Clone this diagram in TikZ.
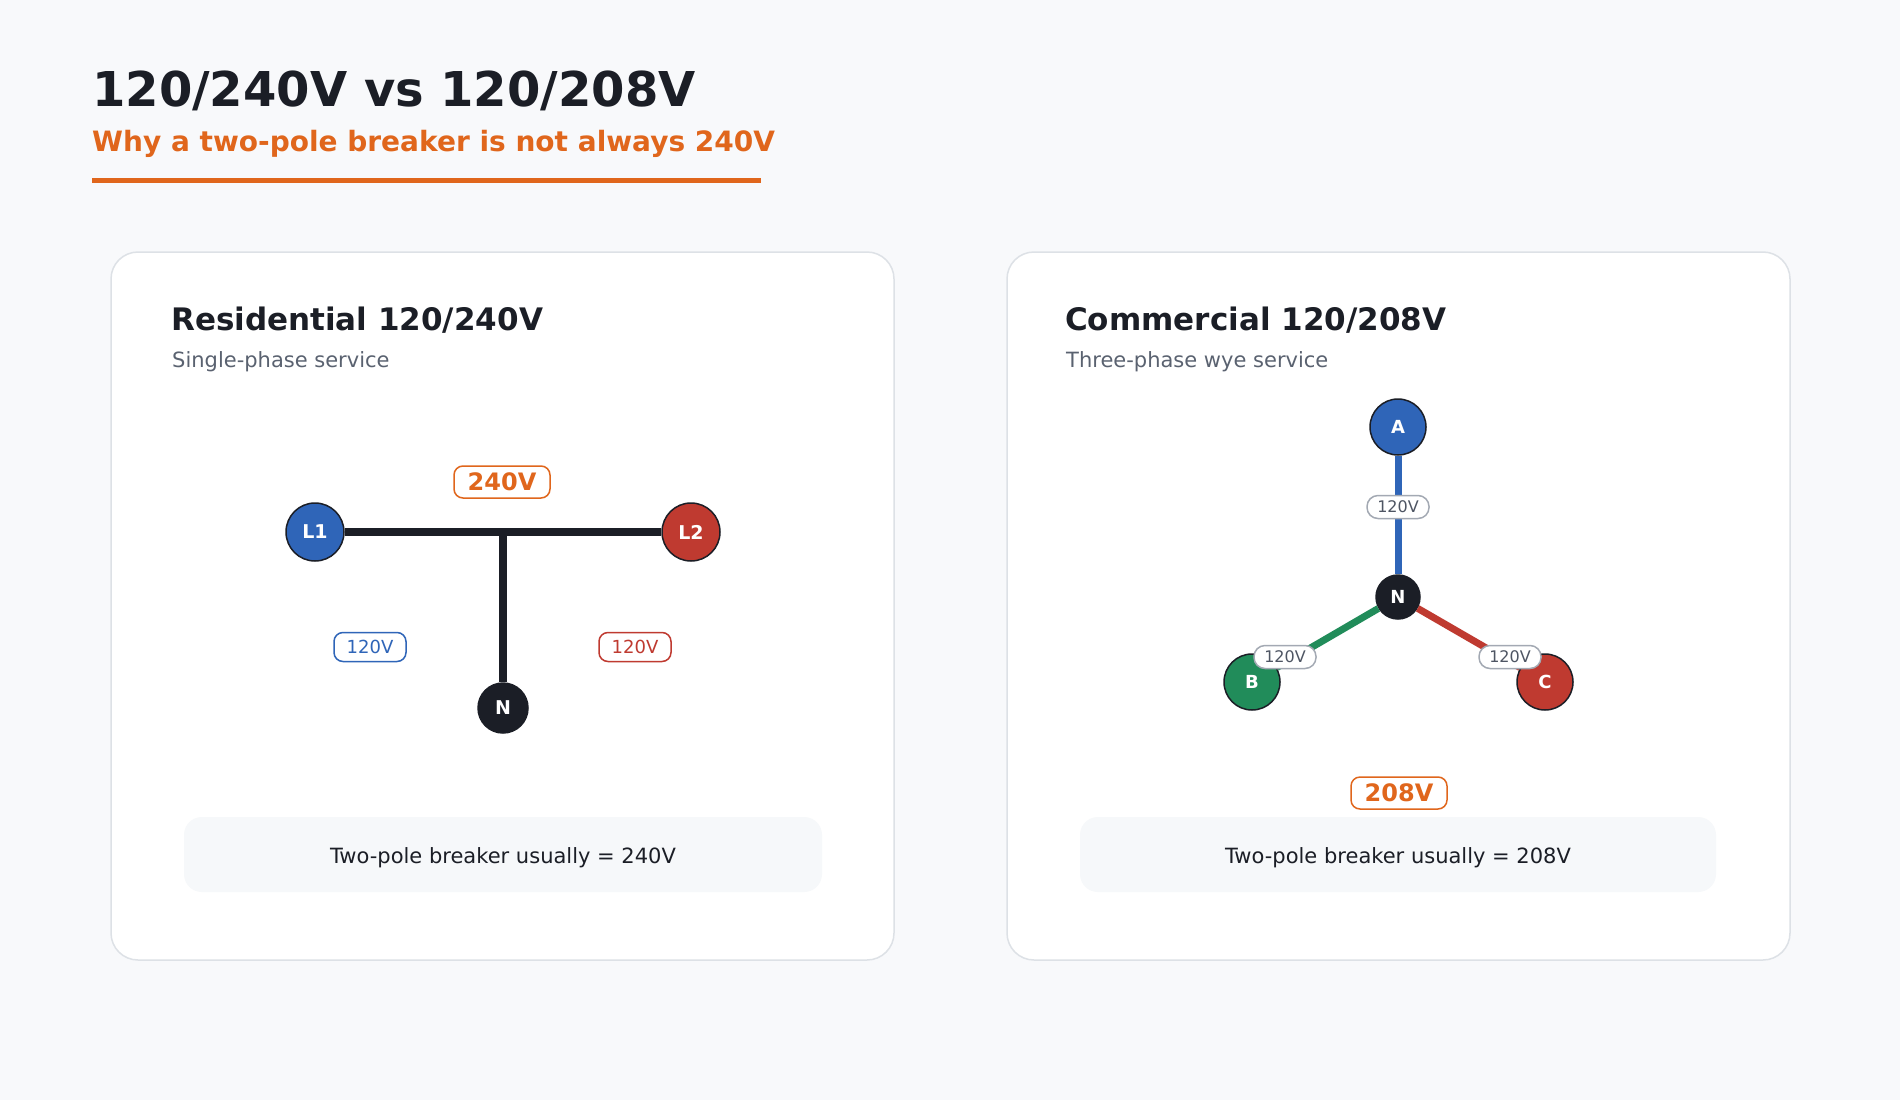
\documentclass[tikz,border=0pt]{standalone}
\usepackage{fontspec}
\setmainfont{DejaVu Sans}
\usetikzlibrary{positioning}

\definecolor{pagebg}{HTML}{F8F9FB}
\definecolor{ink}{HTML}{1B1E26}
\definecolor{mute}{HTML}{5A6270}
\definecolor{accent}{HTML}{E0661C}
\definecolor{cardline}{HTML}{DDE1E6}
\definecolor{notebg}{HTML}{F6F8FA}
\definecolor{phblue}{HTML}{2F65B8}
\definecolor{phred}{HTML}{BF3A30}
\definecolor{phgreen}{HTML}{218C5A}
\definecolor{tagline}{HTML}{A3A9B3}
\definecolor{tagtext}{HTML}{4E5563}

\begin{document}
\begin{tikzpicture}[x=1pt, y=-1pt,
    card/.style={draw=cardline, fill=white, line width=1.5pt, rounded corners=27pt},
    note/.style={fill=notebg, rounded corners=18pt},
    heading/.style={anchor=base west, inner sep=0, text=ink, font=\bfseries\fontsize{31}{36}\selectfont},
    subhead/.style={anchor=base west, inner sep=0, text=mute, font=\fontsize{21}{24}\selectfont},
    phase/.style={circle, draw=ink, line width=1.5pt, minimum size=58pt, inner sep=0, text=white, font=\bfseries\fontsize{19}{19}\selectfont},
    neutral/.style={phase, fill=ink, minimum size=50pt},
    bigtag/.style={draw=accent, fill=white, line width=1.5pt, rounded corners=9pt, minimum width=96pt, minimum height=32pt, inner sep=0, text=accent, font=\bfseries\fontsize{24}{24}\selectfont},
    smalltag/.style={fill=white, line width=1.5pt, rounded corners=9pt, minimum width=72pt, minimum height=29pt, inner sep=0, font=\fontsize{18}{18}\selectfont},
    wyetag/.style={draw=tagline, fill=white, line width=1.5pt, rounded corners=11pt, minimum width=62pt, minimum height=23pt, inner sep=0, text=tagtext, font=\fontsize{16}{16}\selectfont},
    notetext/.style={text=ink, font=\fontsize{21}{24}\selectfont}]

    % page
    \fill[pagebg] (0,0) rectangle (1900,1100);
    \useasboundingbox (0,0) rectangle (1900,1100);

    % title block
    \node[anchor=base west, inner sep=0, text=ink, font=\bfseries\fontsize{48}{56}\selectfont] (title) at (92,106) {120/240V vs 120/208V};
    \node[anchor=base west, inner sep=0, text=accent, font=\bfseries\fontsize{28}{32}\selectfont] (subtitle) at (92,151) {Why a two-pole breaker is not always 240V};
    \fill[accent] (92,178) rectangle (761,183);

    % cards
    \draw[card] (111,252) rectangle (894,960);
    \draw[card] (1007,252) rectangle (1790,960);

    % residential
    \node[heading] (restitle) at (171,330) {Residential 120/240V};
    \node[subhead] (ressub) at (172,367) {Single-phase service};

    \node[phase, fill=phblue] (L1) at (315,532) {L1};
    \node[phase, fill=phred] (L2) at (691,532) {L2};
    \node[neutral] (N1) at (503,708) {N};
    \coordinate (tee) at (503,532);
    \draw[ink, line width=8pt] (L1) -- (L2);
    \draw[ink, line width=8pt] ([yshift=4pt]tee) -- (N1);

    \node[bigtag] (v240) at (502,482) {240V};
    \node[smalltag, draw=phblue, text=phblue] (v120a) at (370,647) {120V};
    \node[smalltag, draw=phred, text=phred] (v120b) at (635,647) {120V};

    \fill[note] (184,817) rectangle (822,892);
    \node[notetext] (resnote) at (503,858) {Two-pole breaker usually = 240V};

    % commercial
    \node[heading] (comtitle) at (1065,330) {Commercial 120/208V};
    \node[subhead] (comsub) at (1066,367) {Three-phase wye service};

    \node[phase, fill=phblue, minimum size=56pt, font=\bfseries\fontsize{18}{18}\selectfont] (A) at (1398,427) {A};
    \node[phase, fill=phgreen, minimum size=56pt, font=\bfseries\fontsize{18}{18}\selectfont] (B) at (1252,682) {B};
    \node[phase, fill=phred, minimum size=56pt, font=\bfseries\fontsize{18}{18}\selectfont] (C) at (1545,682) {C};
    \node[neutral, minimum size=44pt, font=\bfseries\fontsize{18}{18}\selectfont] (N2) at (1398,597) {N};
    \draw[phblue, line width=7pt] (A) -- (N2);
    \draw[phgreen, line width=7pt] (N2) -- (B);
    \draw[phred, line width=7pt] (N2) -- (C);

    \node[wyetag] (va) at (1398,507) {120V};
    \node[wyetag] (vb) at (1285,657) {120V};
    \node[wyetag] (vc) at (1510,657) {120V};

    \node[bigtag] (v208) at (1399,793) {208V};

    \fill[note] (1080,817) rectangle (1716,892);
    \node[notetext] (comnote) at (1398,858) {Two-pole breaker usually = 208V};
\end{tikzpicture}
\end{document}
